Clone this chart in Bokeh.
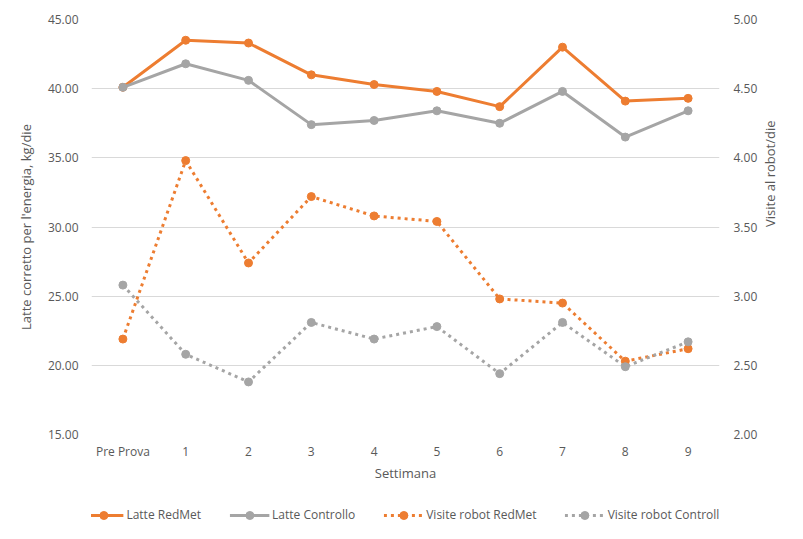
import math
from bokeh.plotting import figure
from bokeh.layouts import column
from bokeh.models import (FactorRange, Range1d, LinearAxis, FixedTicker,
                          NumeralTickFormatter, Legend, LegendItem)
from bokeh.embed import file_html
from bokeh.resources import INLINE

# data
weeks = ["Pre Prova", "1", "2", "3", "4", "5", "6", "7", "8", "9"]
latte_redmet = [40.1, 43.5, 43.3, 41.0, 40.3, 39.8, 38.7, 43.0, 39.1, 39.3]
latte_controllo = [40.1, 41.8, 40.6, 37.4, 37.7, 38.4, 37.5, 39.8, 36.5, 38.4]
visite_redmet = [2.69, 3.98, 3.24, 3.72, 3.58, 3.54, 2.98, 2.95, 2.53, 2.62]
visite_controllo = [3.08, 2.58, 2.38, 2.81, 2.69, 2.78, 2.44, 2.81, 2.49, 2.67]

ORANGE = "#ED7D31"
GREY = "#A5A5A5"
TXT = "#595959"
FONT = "Open Sans"

series = [
    ("Latte RedMet", latte_redmet, ORANGE, None, "default"),
    ("Latte Controllo", latte_controllo, GREY, None, "default"),
    ("Visite robot RedMet", visite_redmet, ORANGE, "3 4", "visite"),
    ("Visite robot Controllo", visite_controllo, GREY, "3 4", "visite"),
]

p = figure(width=803, height=490, x_range=FactorRange(*weeks, range_padding=0),
           y_range=Range1d(15, 45), output_backend="svg", toolbar_location=None,
           min_border_left=91, min_border_right=84, min_border_top=19, min_border_bottom=56)
p.extra_y_ranges = {"visite": Range1d(2, 5)}
p.outline_line_color = None
p.xgrid.grid_line_color = None
p.ygrid.grid_line_color = "#D9D9D9"
p.ygrid.grid_line_width = 1

p.yaxis.ticker = FixedTicker(ticks=[15, 20, 25, 30, 35, 40, 45])
p.yaxis.formatter = NumeralTickFormatter(format="0.00")
p.yaxis.axis_label = "Latte corretto per l'energia, kg/die"

right = LinearAxis(y_range_name="visite", axis_label="Visite al robot/die",
                   ticker=FixedTicker(ticks=[2, 2.5, 3, 3.5, 4, 4.5, 5]),
                   formatter=NumeralTickFormatter(format="0.00"))
if "axis_label_orientation" in right.properties():
    right.axis_label_orientation = math.pi / 2
p.add_layout(right, "right")
p.xaxis.axis_label = "Settimana"

for ax in [p.xaxis[0], p.yaxis[0], right]:
    ax.axis_line_color = None
    ax.major_tick_line_color = None
    ax.minor_tick_line_color = None
    ax.major_label_text_color = TXT
    ax.major_label_text_font = FONT
    ax.major_label_text_font_size = "12px"
    ax.axis_label_text_color = TXT
    ax.axis_label_text_font = FONT
    ax.axis_label_text_font_size = "13px"
    ax.axis_label_text_font_style = "normal"
p.xaxis.major_label_standoff = 2
p.xaxis.axis_label_standoff = 1
p.yaxis.major_label_standoff = 7
p.yaxis.axis_label_standoff = 10
right.major_label_standoff = 8

for name, vals, col, dash, rng in series:
    kw = dict(y_range_name=rng) if rng != "default" else {}
    p.line(weeks, vals, color=col, line_width=3, line_dash=dash or "solid", **kw)
    p.scatter(weeks, vals, color=col, size=8, **kw)

# legend strip under the chart (series drawn out of view, only the legend shows)
q = figure(width=803, height=49, x_range=FactorRange(*weeks, range_padding=0),
           y_range=Range1d(-10, -9), output_backend="svg", toolbar_location=None,
           x_axis_location=None, y_axis_location=None,
           min_border_left=0, min_border_right=0, min_border_top=0, min_border_bottom=0)
q.outline_line_color = None
q.grid.visible = False

items = []
for name, vals, col, dash, rng in series:
    ql = q.line(weeks, vals, color=col, line_width=3, line_dash=dash or "solid")
    qm = q.scatter(weeks, vals, color=col, size=8)
    items.append(LegendItem(label=name, renderers=[ql, qm]))

legend = Legend(items=items, orientation="horizontal", location="center")
legend.label_text_font = FONT
legend.label_text_font_size = "12px"
legend.label_text_color = TXT
legend.glyph_width = 40
legend.label_standoff = 3
legend.spacing = 28
legend.padding = 4
legend.margin = 0
legend.border_line_color = None
legend.background_fill_alpha = 0
q.add_layout(legend)

page = column(p, q, spacing=0)
open("out.html", "w").write(file_html(page, INLINE))
